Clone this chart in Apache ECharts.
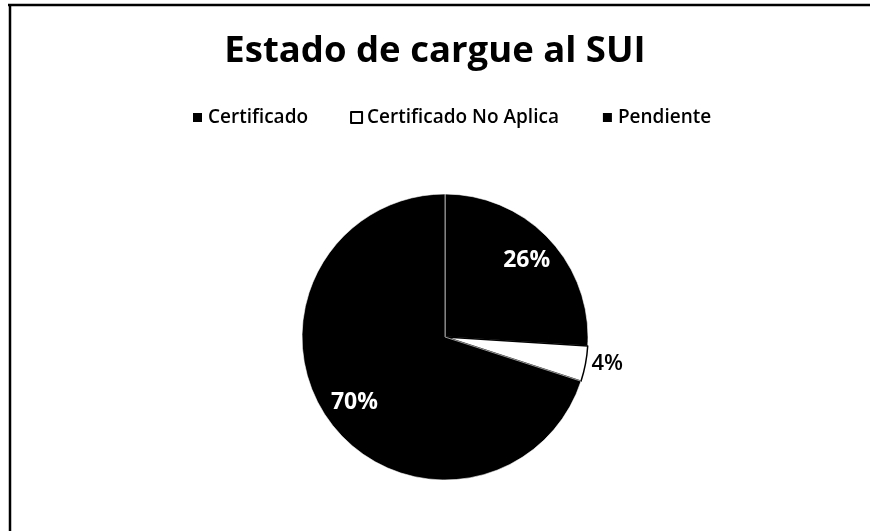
<!DOCTYPE html>
<html>
<head>
<meta charset="utf-8">
<script src="https://cdn.jsdelivr.net/npm/echarts@6/dist/echarts.min.js"></script>
<style>html,body{margin:0;padding:0;background:#fff}#c{width:870px;height:531px}</style>
</head>
<body>
<div id="c"></div>
<script>
const titleText = 'Estado de cargue al SUI';
const categories = ['Certificado', 'Certificado No Aplica', 'Pendiente'];
const values = [26, 4, 70];
const sliceColors = ['#000000', '#ffffff', '#000000'];

const FONT = 'Open Sans';
const chart = echarts.init(document.getElementById('c'));

const mainData = categories.map((n, i) => ({
  name: n,
  value: values[i],
  itemStyle: {
    color: sliceColors[i],
    borderColor: sliceColors[i] === '#ffffff' ? '#000' : '#fff',
    borderWidth: sliceColors[i] === '#ffffff' ? 1.5 : 0.6
  },
  label: i === 1 ? {
    show: true, position: 'outside', color: '#000', fontSize: 22, fontWeight: 600, fontFamily: FONT,
    formatter: '{d}%'
  } : { show: false },
  labelLine: { show: false }
}));

const labelData = categories.map((n, i) => ({
  name: n,
  value: values[i],
  itemStyle: { color: 'rgba(0,0,0,0)' },
  label: i === 1 ? { show: false } : {
    show: true, position: 'inside', color: '#fff', fontSize: 23, fontWeight: 'bold', fontFamily: FONT,
    textBorderColor: '#000', textBorderWidth: 2, formatter: '{d}%'
  }
}));

chart.setOption({
  backgroundColor: '#fff',
  animation: false,
  title: {
    text: titleText, left: 'center', top: 28,
    textStyle: { fontFamily: FONT, fontSize: 36.5, fontWeight: 'bold', color: '#000' }
  },
  legend: {
    data: categories, top: 103, left: 186, itemWidth: 11, itemHeight: 11, itemGap: 42,
    icon: 'rect',
    textStyle: { fontFamily: FONT, fontSize: 19, fontWeight: 600, color: '#000' }
  },
  graphic: [
    { type: 'line', shape: { x1: 8, y1: 5, x2: 870, y2: 5 }, style: { stroke: '#000', lineWidth: 2.5 } },
    { type: 'line', shape: { x1: 10, y1: 5, x2: 10, y2: 531 }, style: { stroke: '#000', lineWidth: 2.5 } }
  ],
  series: [
    {
      type: 'pie', center: [445, 337], radius: [0, 143], startAngle: 90, clockwise: true,
      data: mainData,
      labelLine: { show: false, length: 1, length2: 0 },
      emphasis: { disabled: true }, silent: true
    },
    {
      type: 'pie', center: [445, 337], radius: [75, 143], startAngle: 90, clockwise: true,
      data: labelData, silent: true, legendHoverLink: false,
      emphasis: { disabled: true }, labelLine: { show: false }
    }
  ]
});
</script>
</body>
</html>
